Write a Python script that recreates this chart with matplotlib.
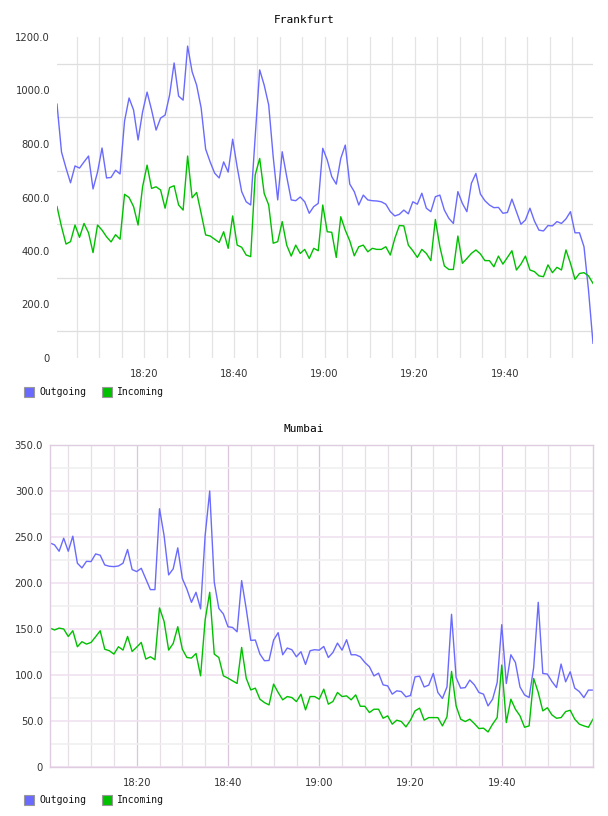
import matplotlib
matplotlib.use('Agg')
import matplotlib.pyplot as plt
import matplotlib.dates as mdates
from matplotlib.patches import Rectangle
from matplotlib.ticker import MultipleLocator, FixedLocator, FuncFormatter
import numpy as np

# traffic per minute
frankfurt_out = [949, 770, 710, 655, 718, 710, 733, 755, 632, 695,
                 785, 673, 675, 702, 688, 886, 972, 927, 815, 920,
                 994, 927, 852, 897, 908, 983, 1103, 979, 964, 1166,
                 1070, 1020, 935, 781, 733, 691, 673, 733, 695, 818,
                 714, 622, 584, 572, 827, 1077, 1020, 946, 752, 591,
                 771, 678, 591, 588, 602, 584, 541, 566, 578, 784,
                 740, 678, 650, 746, 796, 650, 622, 572, 609, 591,
                 588, 587, 584, 575, 547, 531, 537, 553, 539, 584,
                 575, 616, 560, 547, 603, 609, 553, 522, 503, 622,
                 578, 547, 653, 690, 613, 588, 572, 562, 563, 541,
                 544, 594, 547, 500, 516, 560, 512, 478, 475, 495,
                 494, 510, 503, 520, 547, 468, 468, 416, 254, 55]
frankfurt_in = [566, 491, 426, 435, 497, 451, 503, 468, 394, 497,
                478, 453, 434, 461, 444, 612, 600, 566, 497, 640,
                721, 634, 640, 628, 560, 637, 644, 572, 553, 755,
                599, 619, 541, 460, 456, 444, 432, 472, 410, 531,
                422, 414, 385, 379, 684, 746, 615, 572, 429, 435,
                510, 422, 381, 422, 391, 406, 372, 410, 401, 572,
                472, 470, 376, 528, 478, 438, 382, 416, 422, 397,
                410, 406, 406, 416, 385, 447, 495, 494, 422, 401,
                376, 406, 391, 364, 518, 416, 344, 331, 331, 456,
                354, 372, 391, 404, 389, 364, 364, 341, 381, 351,
                376, 401, 329, 351, 381, 329, 323, 307, 304, 348,
                319, 339, 329, 404, 354, 294, 316, 319, 307, 279]
mumbai_out = [243.6, 241.4, 234.5, 248.7, 234.5, 250.9, 221.5, 216.4, 223.6, 223.3,
              231.6, 230.2, 219.6, 218.2, 217.8, 218.5, 221.5, 236.4, 214.6, 212.4,
              216.0, 204.4, 192.8, 192.8, 280.7, 251.6, 208.8, 215.4, 238.2, 204.9,
              193.3, 179.0, 189.9, 171.8, 251.6, 300.0, 200.8, 172.4, 166.3, 152.5,
              151.7, 147.0, 202.6, 172.0, 137.6, 138.0, 122.8, 115.5, 115.8, 138.0,
              146.0, 122.0, 129.3, 127.5, 119.8, 125.3, 111.5, 126.4, 127.5, 127.0,
              131.0, 119.0, 124.5, 134.7, 127.0, 138.3, 122.0, 122.0, 119.8, 113.6,
              109.0, 99.0, 102.0, 89.3, 88.2, 79.2, 82.8, 82.0, 76.3, 77.7,
              98.0, 98.7, 87.0, 89.0, 101.7, 81.0, 74.5, 87.0, 166.0, 97.3,
              85.7, 86.3, 94.5, 89.3, 81.0, 79.2, 66.4, 73.7, 91.8, 154.7,
              90.7, 122.0, 113.6, 87.0, 78.4, 75.5, 108.2, 179.0, 101.7, 101.0,
              92.9, 86.4, 111.9, 92.6, 103.5, 85.7, 82.0, 75.5, 83.6, 83.6]
mumbai_in = [151.0, 148.9, 151.0, 150.0, 141.9, 148.1, 130.7, 136.2, 133.6, 135.4,
             141.6, 148.1, 128.0, 126.4, 122.7, 130.7, 127.1, 141.9, 125.6, 130.3,
             135.4, 117.3, 119.8, 116.6, 172.9, 158.3, 127.1, 134.3, 152.5, 128.0,
             119.0, 118.4, 123.4, 99.1, 159.9, 189.9, 122.7, 119.0, 99.1, 96.6,
             93.7, 90.8, 130.0, 96.6, 83.8, 85.7, 73.7, 70.0, 67.5, 90.1,
             81.0, 73.0, 76.6, 75.5, 71.1, 79.1, 62.1, 76.6, 76.6, 73.7,
             84.6, 68.3, 71.2, 81.0, 76.6, 77.3, 73.0, 78.4, 66.0, 66.0,
             59.2, 62.8, 62.8, 53.0, 55.6, 46.6, 50.9, 49.4, 43.6, 50.9,
             61.0, 64.0, 50.9, 53.7, 53.7, 53.7, 44.7, 54.5, 103.9, 66.4,
             52.0, 49.4, 52.0, 47.2, 41.8, 42.2, 38.1, 46.6, 53.7, 110.8,
             48.3, 73.7, 62.8, 55.6, 43.2, 44.7, 96.2, 81.0, 61.0, 64.4,
             56.6, 53.0, 53.7, 60.2, 61.7, 52.0, 46.6, 44.7, 43.2, 52.0]

frankfurt_start = '2024-01-01T18:00:36'
mumbai_start = '2024-01-01T18:00:58'
legend_labels = ['Outgoing', 'Incoming']

W, H = 608, 816
OUT_COLOR = '#6a6aff'
IN_COLOR = '#00c000'
MONO = 'DejaVu Sans Mono'


def minutes(start, n):
    return np.datetime64(start) + np.arange(n) * np.timedelta64(1, 'm')


def ylabel_fmt(v, pos):
    return '0' if v == 0 else f'{v:.1f}'


def setup_axes(fig, box):
    left, top, right, bottom = box
    ax = fig.add_axes([left / W, 1 - bottom / H, (right - left) / W, (bottom - top) / H])
    ax.set_axisbelow(True)
    ax.xaxis.set_major_locator(mdates.MinuteLocator(byminute=[0, 20, 40]))
    ax.xaxis.set_minor_locator(mdates.MinuteLocator(byminute=range(0, 60, 5)))
    ax.xaxis.set_major_formatter(mdates.DateFormatter('%H:%M'))
    ax.yaxis.set_major_formatter(FuncFormatter(ylabel_fmt))
    ax.tick_params(which='both', length=0, labelsize=7.2, labelcolor='#333333')
    ax.tick_params(axis='x', pad=8)
    ax.tick_params(axis='y', pad=5)
    return ax


def add_legend(fig, y_px):
    x = 24
    for color, label in zip([OUT_COLOR, IN_COLOR], legend_labels):
        fig.add_artist(Rectangle((x / W, 1 - (y_px + 5) / H), 10 / W, 10 / H,
                                 transform=fig.transFigure, facecolor=color,
                                 edgecolor='#999999', lw=0.8))
        fig.text((x + 15) / W, 1 - y_px / H, label, family=MONO, fontsize=7,
                 va='center', ha='left', color='#111111')
        x += 78


fig = plt.figure(figsize=(W / 100, H / 100), dpi=100)

# Frankfurt
t = minutes(frankfurt_start, len(frankfurt_out))
ax1 = setup_axes(fig, (57, 37, 593, 358))
ax1.plot(t, frankfurt_out, color=OUT_COLOR, lw=1.0)
ax1.plot(t, frankfurt_in, color=IN_COLOR, lw=1.0)
ax1.set_xlim(t[0], t[-1])
ax1.set_ylim(0, 1200)
ax1.yaxis.set_major_locator(MultipleLocator(200))
ax1.yaxis.set_minor_locator(FixedLocator(np.arange(100, 1200, 200)))
ax1.grid(True, axis='x', which='both', color='#e4e4e4', lw=0.9)
ax1.grid(True, axis='y', which='minor', color='#dedede', lw=0.9)
for s in ax1.spines.values():
    s.set_visible(False)
fig.text(0.5, 1 - 20 / H, 'Frankfurt', family=MONO, fontsize=8, ha='center', va='center')
add_legend(fig, 392)

# Mumbai
t = minutes(mumbai_start, len(mumbai_out))
ax2 = setup_axes(fig, (50, 445, 593, 767))
ax2.plot(t, mumbai_out, color=OUT_COLOR, lw=1.0)
ax2.plot(t, mumbai_in, color=IN_COLOR, lw=1.0)
ax2.set_xlim(t[0], t[-1])
ax2.set_ylim(0, 350)
ax2.yaxis.set_major_locator(MultipleLocator(50))
ax2.yaxis.set_minor_locator(MultipleLocator(25))
ax2.grid(True, axis='x', which='major', color='#dcc6dc', lw=0.9)
ax2.grid(True, axis='x', which='minor', color='#e6e0e6', lw=0.9)
ax2.grid(True, axis='y', which='major', color='#f0e2f0', lw=1.2)
ax2.grid(True, axis='y', which='minor', color='#f0f0f0', lw=1.2)
for s in ax2.spines.values():
    s.set_color('#e0cce0')
    s.set_linewidth(1.0)
fig.text(0.5, 1 - 429 / H, 'Mumbai', family=MONO, fontsize=8, ha='center', va='center')
add_legend(fig, 800)

fig.savefig('out.png', dpi=100)
